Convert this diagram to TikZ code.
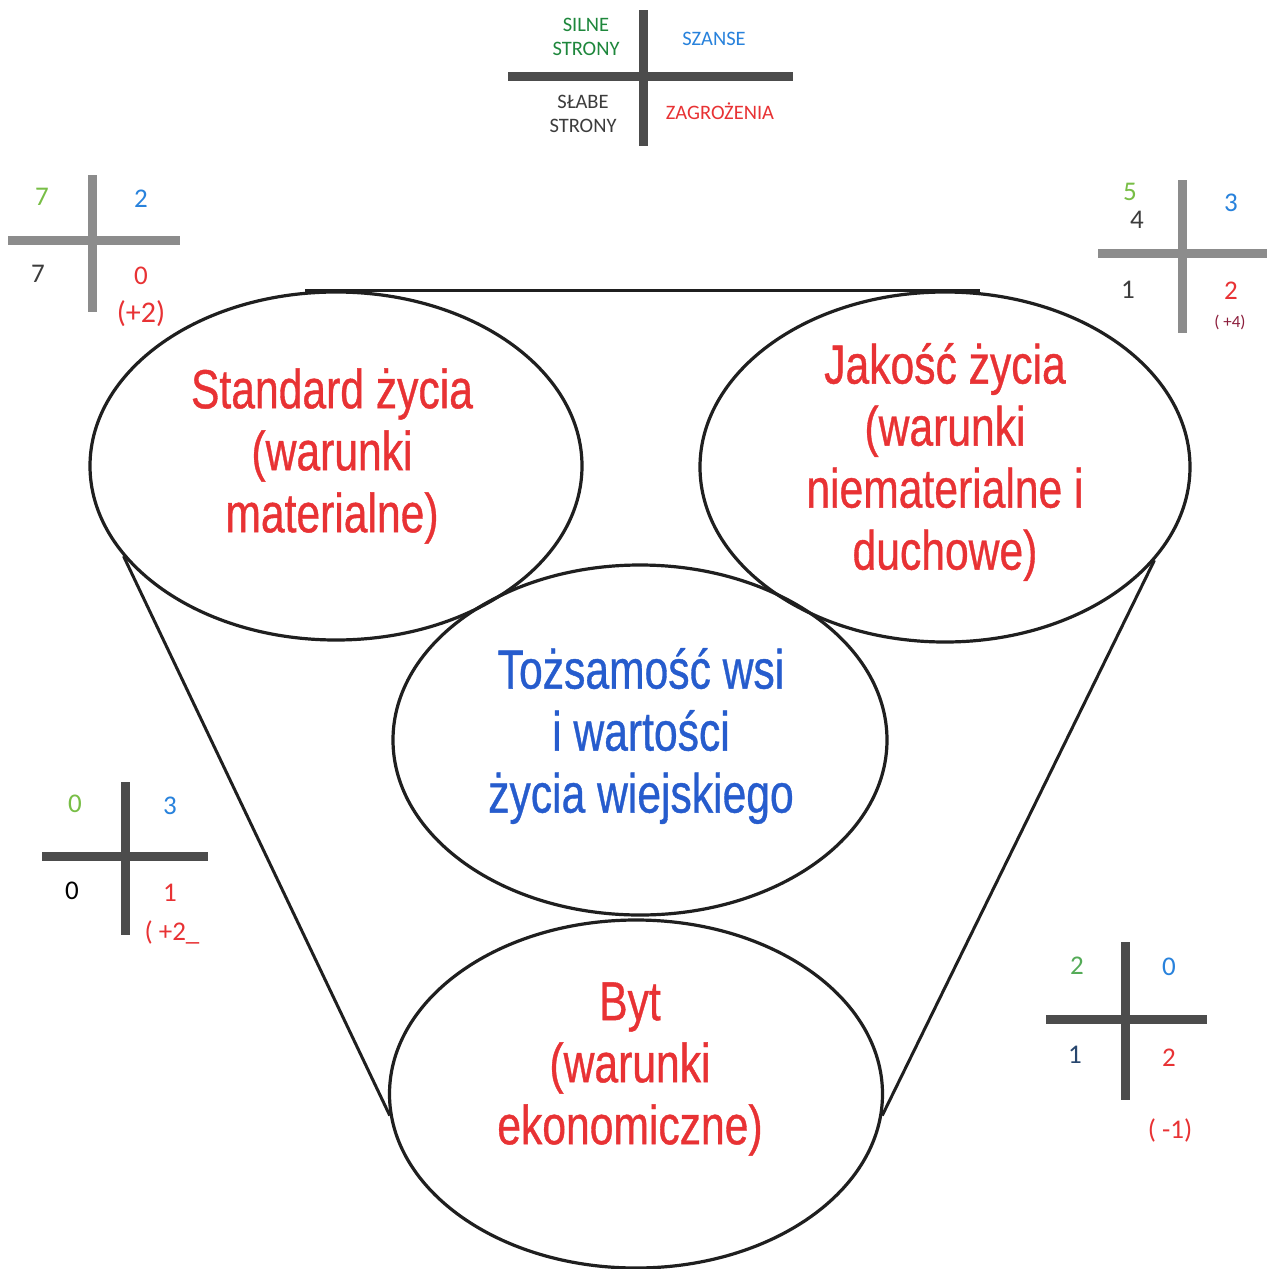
\documentclass[tikz,border=0pt]{standalone}
\usepackage{fontspec}
\setmainfont{Liberation Sans}
\newfontfamily\bigf[FakeBold=0.8]{Liberation Sans}
\newfontfamily\carl{Carlito}
\usetikzlibrary{shapes.geometric,calc}
\definecolor{redc}{RGB}{232,50,52}
\definecolor{bluec}{RGB}{38,92,205}
\definecolor{greenlbl}{RGB}{30,135,60}
\definecolor{bluelbl}{RGB}{40,130,220}
\definecolor{lgreen}{RGB}{120,190,70}
\definecolor{dgray}{RGB}{60,60,60}
\definecolor{maroon}{RGB}{140,30,60}
\definecolor{dblue}{RGB}{40,70,110}
\tikzset{
  ell/.style={draw=black!88, line width=3.2pt, ellipse, inner sep=0pt},
  big/.style={font=\bigf\fontsize{55}{62}\selectfont, align=center, xscale=0.775, inner sep=0pt},
  conn/.style={draw=black!88, line width=3pt},
  barl/.style={line width=9pt, draw=black!45},
  bard/.style={line width=9pt, draw=black!70},
  lbl/.style={font=\carl\fontsize{20.5}{24}\selectfont, align=center, inner sep=0pt},
  num/.style={font=\carl\fontsize{27}{28}\selectfont, inner sep=0pt},
  sml/.style={font=\carl\fontsize{30}{32}\selectfont, inner sep=0pt},
}
\begin{document}
\begin{tikzpicture}[x=1pt,y=-1pt]
\useasboundingbox[fill=white] (0,0) rectangle (1267,1269);

% ellipses
\node[ell, minimum width=492pt, minimum height=348pt] (std) at (336,466) {};
\node[ell, minimum width=490pt, minimum height=350pt] (jak) at (945,467) {};
\node[ell, minimum width=494pt, minimum height=350pt] (toz) at (640,740) {};
\node[ell, minimum width=493pt, minimum height=348pt] (byt) at (636,1094) {};

% connectors
\draw[conn] ($(std.north)+(-31,0)$) -- ($(jak.north)+(35,0)$);
\draw[conn] (std.203) -- (byt.185);
\draw[conn] (jak.336) -- (byt.355);

% ellipse texts
\node[big, text=redc] (tstd) at (332,456) {Standard życia\\(warunki\\materialne)};
\node[big, text=redc] (tjak) at (945,462) {Jakość życia\\(warunki\\niematerialne i\\duchowe)};
\node[big, text=bluec] (ttoz) at (641,736) {Tożsamość wsi\\i wartości\\życia wiejskiego};
\node[big, text=redc] (tbyt) at (630,1069) {Byt\\(warunki\\ekonomiczne)};

% top legend cross
\draw[bard] (643,10) -- (643,146);
\draw[bard] (508,76) -- (793,76);
\node[lbl, text=greenlbl] (ls) at (586,37) {SILNE\\STRONY};
\node[lbl, text=bluelbl] (lo) at (714,39) {SZANSE};
\node[lbl, text=dgray] (lw) at (583,114) {SŁABE\\STRONY};
\node[lbl, text=redc] (lt) at (720,111) {ZAGROŻENIA};

% top-left cross
\draw[barl] (92,175) -- (92,312);
\draw[barl] (8,240) -- (180,240);
\node[num, text=lgreen] (a1) at (42,197) {7};
\node[num, text=bluelbl] (a2) at (141,199) {2};
\node[num, text=dgray] (a3) at (38,274) {7};
\node[num, text=redc] (a4) at (141,276) {0};
\node[sml, text=redc] (a5) at (141,314) {(+2)};

% top-right cross
\draw[barl] (1182,180) -- (1182,333);
\draw[barl] (1098,253) -- (1267,253);
\node[num, text=lgreen] (b1) at (1130,192) {5};
\node[num, text=dgray] (b1b) at (1137,220) {4};
\node[num, text=bluelbl] (b2) at (1231,203) {3};
\node[num, text=dgray] (b3) at (1128,290) {1};
\node[num, text=redc] (b4) at (1231,291) {2};
\node[font=\carl\fontsize{17}{18}\selectfont, text=maroon, inner sep=0pt] (b5) at (1230,322) {( +4)};

% lower-left cross
\draw[bard] (125,782) -- (125,935);
\draw[bard] (42,856) -- (208,856);
\node[num, text=lgreen] (c1) at (75,804) {0};
\node[num, text=bluelbl] (c2) at (170,806) {3};
\node[num, text=black] (c3) at (72,891) {0};
\node[num, text=redc] (c4) at (170,893) {1};
\node[num, text=redc] (c5) at (172,932) {( +2\_};

% lower-right cross
\draw[bard] (1125,942) -- (1125,1100);
\draw[bard] (1046,1019) -- (1207,1019);
\node[num, text=lgreen!70!teal] (d1) at (1077,966) {2};
\node[num, text=bluelbl] (d2) at (1169,967) {0};
\node[num, text=dblue] (d3) at (1075,1055) {1};
\node[num, text=redc] (d4) at (1169,1058) {2};
\node[num, text=redc] (d5) at (1170,1130) {( -1)};
\end{tikzpicture}
\end{document}
